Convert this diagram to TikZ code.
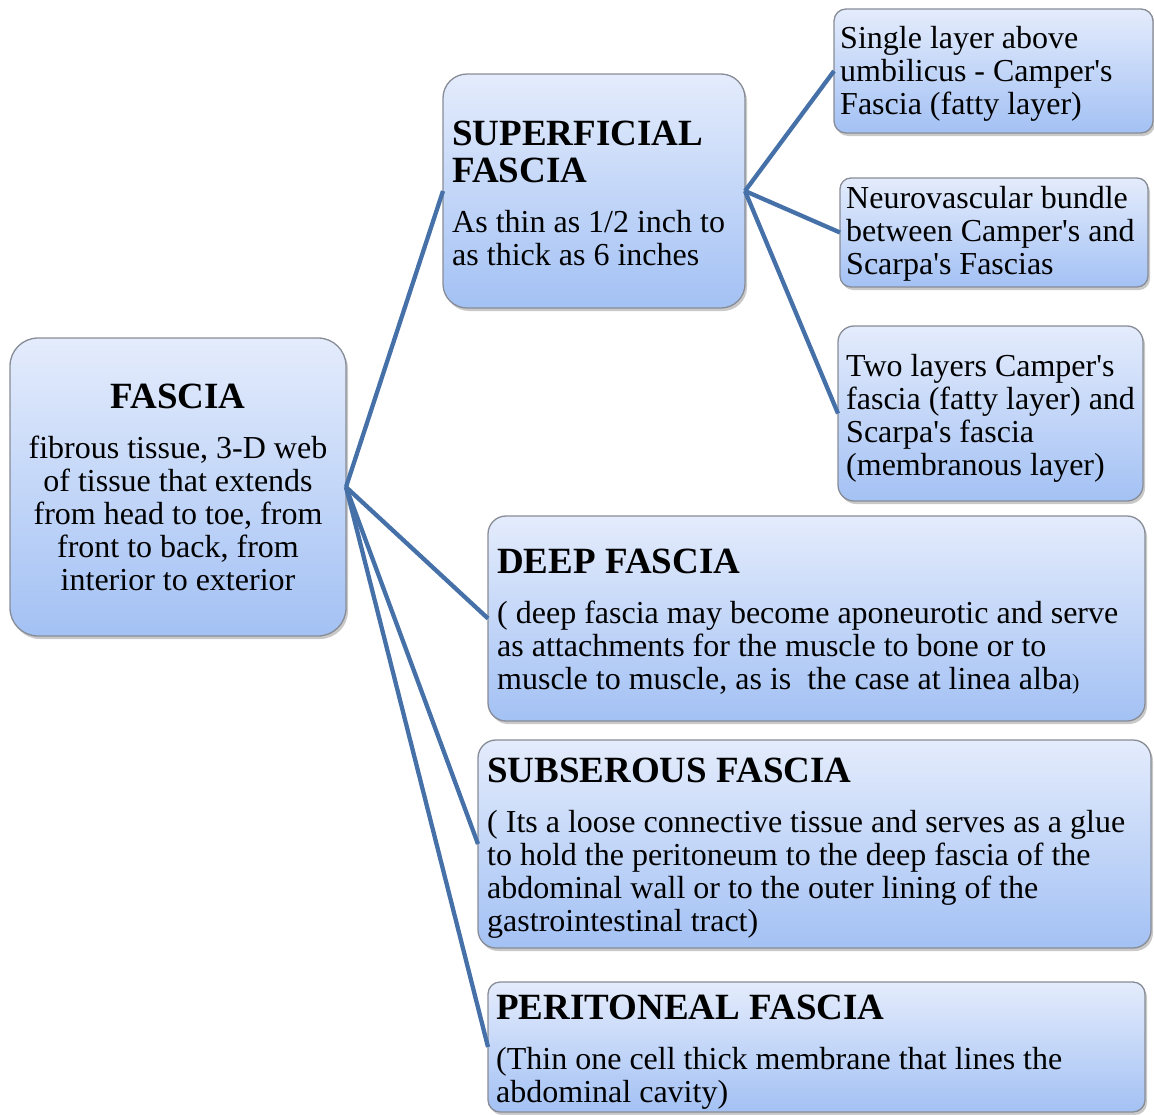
\documentclass[tikz,border=0pt]{standalone}
\usepackage{fontspec}
\setmainfont{Liberation Serif}[Ligatures=TeXOff]
\usetikzlibrary{shadows}
\definecolor{boxtop}{RGB}{228,236,252}
\definecolor{boxbot}{RGB}{163,193,244}
\definecolor{boxedge}{RGB}{135,140,150}
\definecolor{linkblue}{RGB}{70,113,168}
\tikzset{
  panel/.style={draw=boxedge, line width=1.3pt, top color=boxtop, bottom color=boxbot,
    inner sep=0pt, outer sep=0pt,
    drop shadow={shadow xshift=2pt, shadow yshift=-3pt, opacity=0.3, fill=black!70}},
  head/.style={font=\fontsize{37}{37}\selectfont\bfseries, inner sep=0pt, align=left, anchor=base west},
  body/.style={font=\fontsize{32}{33}\selectfont, inner sep=0pt, align=left, anchor=base west},
  branch/.style={draw=linkblue, line width=4.3pt},
}
\begin{document}
\begin{tikzpicture}[x=1pt, y=-1pt]
\useasboundingbox (0,0) rectangle (1154,1114);

% boxes
\node[panel, rounded corners=28pt, minimum width=336pt, minimum height=298pt] (fascia) at (178,487) {};
\node[panel, rounded corners=24pt, minimum width=302pt, minimum height=234pt] (sup) at (594,191) {};
\node[panel, rounded corners=12pt, minimum width=319pt, minimum height=124pt] (single) at (993.5,71) {};
\node[panel, rounded corners=11pt, minimum width=308pt, minimum height=109pt] (neuro) at (994,232.5) {};
\node[panel, rounded corners=16pt, minimum width=305pt, minimum height=175pt] (two) at (990.5,413.5) {};
\node[panel, rounded corners=18pt, minimum width=657pt, minimum height=205pt] (deep) at (816.5,618.5) {};
\node[panel, rounded corners=18pt, minimum width=673pt, minimum height=208pt] (subs) at (814.5,844) {};
\node[panel, rounded corners=12pt, minimum width=657pt, minimum height=130pt] (perit) at (816.5,1047) {};

% connectors
\draw[branch] (fascia.east) -- (sup.west);
\draw[branch] (fascia.east) -- (deep.west);
\draw[branch] (fascia.east) -- (subs.west);
\draw[branch] (fascia.east) -- (perit.west);
\draw[branch] (sup.east) -- (single.west);
\draw[branch] (sup.east) -- (neuro.west);
\draw[branch] (sup.east) -- (two.west);

% texts (multi-line nodes are placed by the baseline of their last line)
\node[head, anchor=base] (fasciaH) at (178,408) {FASCIA};
\node[body, anchor=base, align=center] (fasciaT) at (178,590)
  {fibrous tissue, 3-D web\\of tissue that extends\\from head to toe, from\\front to back, from\\interior to exterior};

\node[head] (supH) at (452,182) {SUPERFICIAL\\FASCIA};
\node[body] (supT) at (452,265) {As thin as 1/2 inch to\\as thick as 6 inches};

\node[body] (singleT) at (840,114) {Single layer above\\umbilicus - Camper's\\Fascia (fatty layer)};
\node[body] (neuroT) at (846,274) {Neurovascular bundle\\between Camper's and\\Scarpa's Fascias};
\node[body] (twoT) at (846,475) {Two layers Camper's\\fascia (fatty layer) and\\Scarpa's fascia\\(membranous layer)};

\node[head] (deepH) at (497,573) {DEEP FASCIA};
\node[body] (deepT) at (497,689) {( deep fascia may become aponeurotic and serve\\as attachments for the muscle to bone or to\\muscle to muscle, as is\ \ the case at linea alba{\fontsize{22}{22}\selectfont)}};

\node[head] (subsH) at (487,782) {SUBSEROUS FASCIA};
\node[body] (subsT) at (487,931) {( Its a loose connective tissue and serves as a glue\\to hold the peritoneum to the deep fascia of the\\abdominal wall or to the outer lining of the\\gastrointestinal tract)};

\node[head] (peritH) at (496,1019) {PERITONEAL FASCIA};
\node[body] (peritT) at (496,1102) {(Thin one cell thick membrane that lines the\\abdominal cavity)};
\end{tikzpicture}
\end{document}
